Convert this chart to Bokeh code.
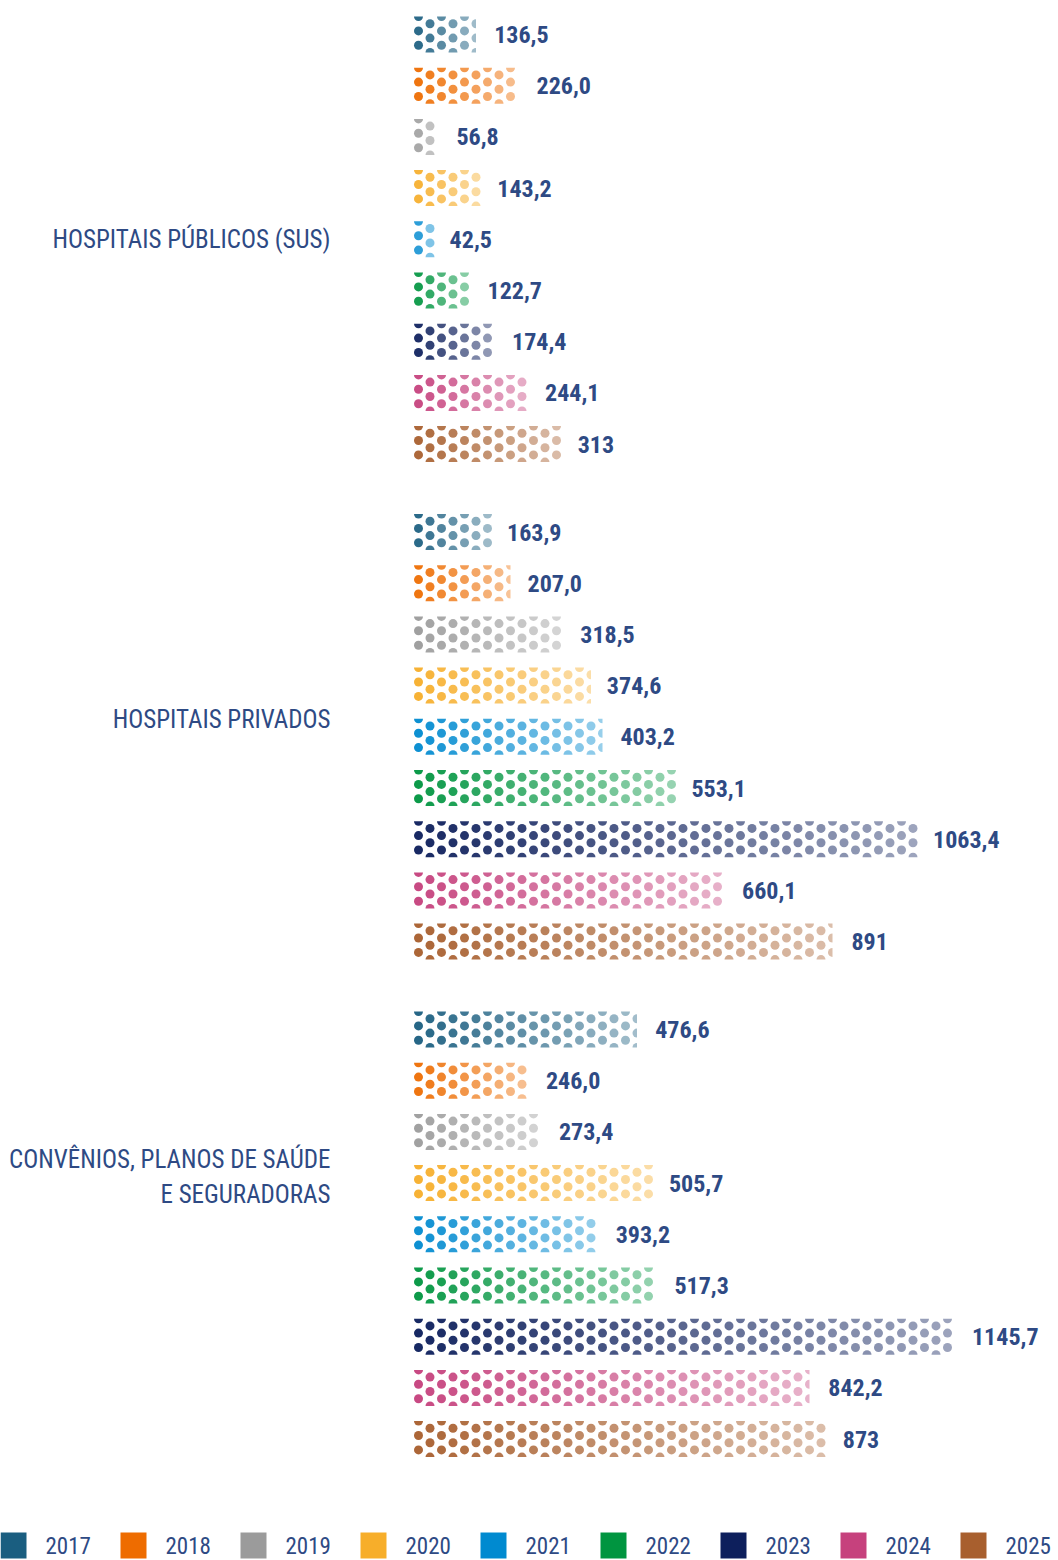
import math
from bokeh.plotting import figure
from bokeh.models import Range1d, ColumnDataSource
from bokeh.core.properties import value
from bokeh.embed import file_html
from bokeh.resources import INLINE

# ---------------- data ----------------
years = ["2017", "2018", "2019", "2020", "2021", "2022", "2023", "2024", "2025"]
categories = [
    "HOSPITAIS PÚBLICOS (SUS)",
    "HOSPITAIS PRIVADOS",
    "CONVÊNIOS, PLANOS DE SAÚDE\nE SEGURADORAS",
]
hospitais_publicos = [136.5, 226.0, 56.8, 143.2, 42.5, 122.7, 174.4, 244.1, 313]
hospitais_privados = [163.9, 207.0, 318.5, 374.6, 403.2, 553.1, 1063.4, 660.1, 891]
convenios_planos = [476.6, 246.0, 273.4, 505.7, 393.2, 517.3, 1145.7, 842.2, 873]
series = [hospitais_publicos, hospitais_privados, convenios_planos]

year_colors = ["#1a5e80", "#ee6c00", "#9b9b9b", "#f7ae2a", "#008ad0",
               "#009540", "#0d1f5c", "#c6417d", "#a85f2e"]

# ---------------- layout / style ----------------
W, H = 1058, 1560
X0 = 413.0          # pixel position of value 0
S = 0.4735          # pixels per unit
TOP = 34.0          # centre of first bar (px from top)
STEP = 51.2         # bar step
GROUP_STEP = 497.5  # group step
LABEL_SHIFT = [0, -17, -57]
LABEL_GAP = 16
TXT = "#2e4a84"
FONT = value("'Roboto Condensed', 'Liberation Sans Narrow', 'DejaVu Sans Condensed', 'Open Sans', sans-serif")

DOT_R = 4.5
DOT_DX = 11.5
DOT_X0 = 5.0
ROW_DY = 7.2
N_ROWS = 6


def X(px):
    return (px - X0) / S


def Y(py):
    return H - py


def mix(hexc, t):
    hexc = hexc.lstrip("#")
    r, g, b = (int(hexc[i:i + 2], 16) for i in (0, 2, 4))
    return "#%02x%02x%02x" % tuple(int(c + (255 - c) * t) for c in (r, g, b))


def fmt(v, year):
    if year == "2025":
        return str(int(round(v)))
    return ("%.1f" % v).replace(".", ",")


p = figure(width=W, height=H, output_backend="svg", toolbar_location=None,
           x_range=Range1d(X(0), X(W)), y_range=Range1d(0, H),
           x_axis_type=None, y_axis_type=None, min_border=0,
           outline_line_color=None, background_fill_color="white",
           border_fill_color="white")
p.xgrid.visible = False
p.ygrid.visible = False

bar_y, bar_v, bar_c = [], [], []
dots = dict(x=[], y=[], c=[])
wedges = dict(x=[], y=[], c=[], a0=[], a1=[])
labels = dict(x=[], y=[], t=[])

for g, vals in enumerate(series):
    for i, v in enumerate(vals):
        cy = TOP + g * GROUP_STEP + i * STEP
        base = year_colors[i]
        bar_y.append(Y(cy))
        bar_v.append(v)
        bar_c.append(base)
        L = v * S
        j = 0
        while True:
            cx = DOT_X0 + j * DOT_DX
            if cx > L + 1:
                break
            t = 0.04 + 0.56 * (cx / max(L, 1))
            col = mix(base, t)
            right_cut = cx + DOT_R > L + 1.5
            for k in range(N_ROWS):
                if (j + k) % 2:
                    continue
                dy = (k - (N_ROWS - 1) / 2) * ROW_DY
                px, py = X(X0 + cx), Y(cy + dy)
                if k == 0:
                    a0, a1 = math.pi, (1.5 * math.pi if right_cut else 2 * math.pi)
                elif k == N_ROWS - 1:
                    a0, a1 = (0.5 * math.pi if right_cut else 0.0), math.pi
                elif right_cut:
                    a0, a1 = 0.5 * math.pi, 1.5 * math.pi
                else:
                    dots["x"].append(px)
                    dots["y"].append(py)
                    dots["c"].append(col)
                    continue
                wedges["x"].append(px)
                wedges["y"].append(py)
                wedges["c"].append(col)
                wedges["a0"].append(a0)
                wedges["a1"].append(a1)
            j += 1
        labels["x"].append(v + LABEL_GAP / S)
        labels["y"].append(Y(cy))
        labels["t"].append(fmt(v, years[i]))

# bar bodies (white base)
p.hbar(y=bar_y, left=0, right=bar_v, height=36, fill_color="white",
       line_color=None)
p.scatter(x="x", y="y", fill_color="c", line_color=None, size=2 * DOT_R,
          marker="circle", source=ColumnDataSource(dots))
p.wedge(x="x", y="y", radius=DOT_R, radius_units="screen", start_angle="a0",
        end_angle="a1", fill_color="c", line_color=None,
        source=ColumnDataSource(wedges))
p.text(x="x", y="y", text="t", source=ColumnDataSource(labels),
       text_font=FONT, text_font_size="24px", text_font_style="bold",
       text_color=TXT, text_baseline="middle", text_align="left")

# category labels
cat_x = [X(330)] * len(categories)
cat_y = [Y(TOP + g * GROUP_STEP + 4 * STEP + LABEL_SHIFT[g]) for g in range(len(categories))]
p.text(x=cat_x, y=cat_y, text=categories, text_font=FONT,
       text_font_size="25px", text_color=TXT, text_align="right",
       text_baseline="middle", text_line_height=1.2)

# legend
leg_sw_x = [X(13 + 120 * i) for i in range(len(years))]
leg_tx_x = [X(45 + 120 * i) for i in range(len(years))]
leg_y = [Y(1545)] * len(years)
p.rect(x=leg_sw_x, y=leg_y, width=26, height=26, width_units="screen",
       height_units="screen", fill_color=year_colors, line_color=None)
p.text(x=leg_tx_x, y=leg_y, text=years, text_font=FONT, text_font_size="23px",
       text_color=TXT, text_baseline="middle", text_align="left")

open("out.html", "w").write(file_html(p, INLINE))
